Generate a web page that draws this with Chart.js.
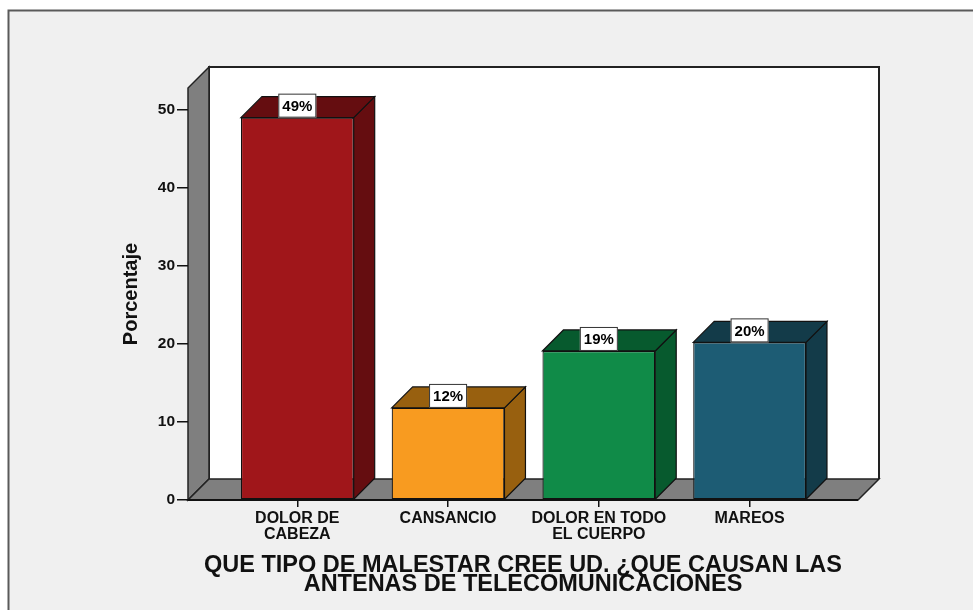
<!DOCTYPE html>
<html>
<head>
<meta charset="utf-8">
<script src="https://cdn.jsdelivr.net/npm/chart.js@4"></script>
<style>
  html, body { margin: 0; padding: 0; background: #ffffff; }
  #wrap { width: 973px; height: 610px; position: relative; }
</style>
</head>
<body>
<div id="wrap"><canvas id="c" width="973" height="610"></canvas></div>
<script>
// ---- data ----
const categories = [["DOLOR DE", "CABEZA"], ["CANSANCIO"], ["DOLOR EN TODO", "EL CUERPO"], ["MAREOS"]];
const percentValues = [49.0, 11.8, 19.1, 20.2];
const yTickValues = [0, 10, 20, 30, 40, 50];
const frontColors = ["#a0161a", "#f89b20", "#108b48", "#1d5c74"];
const sideColors  = ["#650d10", "#98600f", "#075a2e", "#133b49"];
const yAxisTitle = "Porcentaje";
const xAxisTitle = ["QUE TIPO DE MALESTAR CREE UD. ¿QUE CAUSAN LAS", "ANTENAS DE TELECOMUNICACIONES"];

const DEPTH_X = 21, DEPTH_Y = 21;
const FONT = "'Liberation Sans', Arial, sans-serif";

const threeD = {
  id: 'threeD',
  beforeDraw(chart) {
    const ctx = chart.ctx;
    const W = chart.width, H = chart.height;
    ctx.save();
    ctx.fillStyle = '#ffffff';
    ctx.fillRect(0, 0, W, H);
    ctx.fillStyle = '#f0f0f0';
    ctx.fillRect(9, 11, W - 9, H - 11);
    ctx.strokeStyle = '#5a5a5a';
    ctx.lineWidth = 2;
    ctx.beginPath();
    ctx.moveTo(8.5, H); ctx.lineTo(8.5, 10.5); ctx.lineTo(W, 10.5);
    ctx.stroke();

    const a = chart.chartArea;
    const L = a.left, R = a.right, T = a.top, B = a.bottom;
    // back wall
    ctx.fillStyle = '#ffffff';
    ctx.fillRect(L + DEPTH_X, T - DEPTH_Y, R - L, B - T);
    ctx.strokeStyle = '#222';
    ctx.lineWidth = 2;
    ctx.beginPath();
    ctx.moveTo(L + DEPTH_X, B - DEPTH_Y);
    ctx.lineTo(L + DEPTH_X, T - DEPTH_Y);
    ctx.lineTo(R + DEPTH_X, T - DEPTH_Y);
    ctx.lineTo(R + DEPTH_X, B - DEPTH_Y);
    ctx.stroke();
    // left wall
    ctx.fillStyle = '#7f7f7f';
    ctx.lineWidth = 1.5;
    ctx.beginPath();
    ctx.moveTo(L, B); ctx.lineTo(L, T);
    ctx.lineTo(L + DEPTH_X, T - DEPTH_Y); ctx.lineTo(L + DEPTH_X, B - DEPTH_Y);
    ctx.closePath();
    ctx.fill(); ctx.stroke();
    // floor
    ctx.beginPath();
    ctx.moveTo(L, B); ctx.lineTo(R, B);
    ctx.lineTo(R + DEPTH_X, B - DEPTH_Y); ctx.lineTo(L + DEPTH_X, B - DEPTH_Y);
    ctx.closePath();
    ctx.fill(); ctx.stroke();
    ctx.restore();
  },
  afterDatasetsDraw(chart) {
    const ctx = chart.ctx;
    const meta = chart.getDatasetMeta(0);
    ctx.save();
    ctx.lineWidth = 1.2;
    ctx.strokeStyle = '#111';
    meta.data.forEach((bar, i) => {
      const {x, y, base, width} = bar.getProps(['x', 'y', 'base', 'width'], true);
      const l = x - width / 2, r = x + width / 2;
      ctx.fillStyle = sideColors[i];
      // side
      ctx.beginPath();
      ctx.moveTo(r, base); ctx.lineTo(r, y);
      ctx.lineTo(r + DEPTH_X, y - DEPTH_Y); ctx.lineTo(r + DEPTH_X, base - DEPTH_Y);
      ctx.closePath(); ctx.fill(); ctx.stroke();
      // top
      ctx.beginPath();
      ctx.moveTo(l, y); ctx.lineTo(r, y);
      ctx.lineTo(r + DEPTH_X, y - DEPTH_Y); ctx.lineTo(l + DEPTH_X, y - DEPTH_Y);
      ctx.closePath(); ctx.fill(); ctx.stroke();
      // label box
      const txt = Math.round(percentValues[i]) + '%';
      ctx.font = 'bold 15px ' + FONT;
      const tw = ctx.measureText(txt).width;
      const bw = tw + 8, bh = DEPTH_Y + 3;
      const bx = x - bw / 2, by = y - bh;
      ctx.fillStyle = '#ffffff';
      ctx.fillRect(bx, by, bw, bh);
      ctx.strokeStyle = '#333';
      ctx.lineWidth = 1;
      ctx.strokeRect(bx + 0.5, by + 0.5, bw - 1, bh - 1);
      ctx.fillStyle = '#000';
      ctx.textAlign = 'center';
      ctx.textBaseline = 'middle';
      ctx.fillText(txt, x, by + bh / 2 + 1);
      ctx.strokeStyle = '#111';
      ctx.lineWidth = 1.2;
    });
    // front floor edge on top
    const a = chart.chartArea;
    ctx.strokeStyle = '#111';
    ctx.lineWidth = 2;
    ctx.beginPath();
    ctx.moveTo(a.left, a.bottom); ctx.lineTo(a.right, a.bottom);
    ctx.stroke();
    ctx.restore();
  }
};

new Chart(document.getElementById('c'), {
  type: 'bar',
  data: {
    datasets: [{
      data: percentValues.map((v, i) => ({x: i, y: v})),
      backgroundColor: frontColors,
      borderColor: '#111',
      borderWidth: 1.2,
      borderSkipped: false,
      categoryPercentage: 1.0,
      barPercentage: 0.748
    }]
  },
  options: {
    responsive: false,
    animation: false,
    devicePixelRatio: 1,
    layout: { padding: { left: 110, right: 115, top: 88, bottom: 0 } },
    plugins: { legend: { display: false }, tooltip: { enabled: false } },
    scales: {
      x: {
        type: 'linear',
        offset: false,
        min: -0.725,
        max: 3.719,
        afterBuildTicks(scale) { scale.ticks = categories.map((c, i) => ({value: i})); },
        afterFit(scale) { scale.height = 110; },
        grid: { offset: false, drawOnChartArea: false, drawTicks: true, tickLength: 7, color: '#111', lineWidth: 1.5 },
        border: { display: false },
        ticks: {
          autoSkip: false, maxRotation: 0, padding: 4, color: '#111',
          font: { family: FONT, size: 16, weight: 'bold', lineHeight: 0.97 },
          callback: (v) => categories[v]
        },
        title: {
          display: true, text: xAxisTitle, color: '#111',
          font: { family: FONT, size: 23.5, weight: 'bold', lineHeight: 0.81 },
          padding: { top: 0, bottom: 15.5 }
        }
      },
      y: {
        min: 0,
        max: 52.8,
        afterBuildTicks(scale) { scale.ticks = yTickValues.map(v => ({value: v})); },
        afterFit(scale) { scale.width = 78; },
        grid: { drawOnChartArea: false, drawTicks: true, tickLength: 11, color: '#111', lineWidth: 1.5 },
        border: { display: false },
        ticks: { padding: 2, color: '#111', font: { family: FONT, size: 15.5, weight: 'bold' } },
        title: {
          display: true, text: yAxisTitle, color: '#111',
          font: { family: FONT, size: 20, weight: 'bold' },
          padding: { top: 9, bottom: 0 }
        }
      }
    }
  },
  plugins: [threeD]
});
</script>
</body>
</html>
